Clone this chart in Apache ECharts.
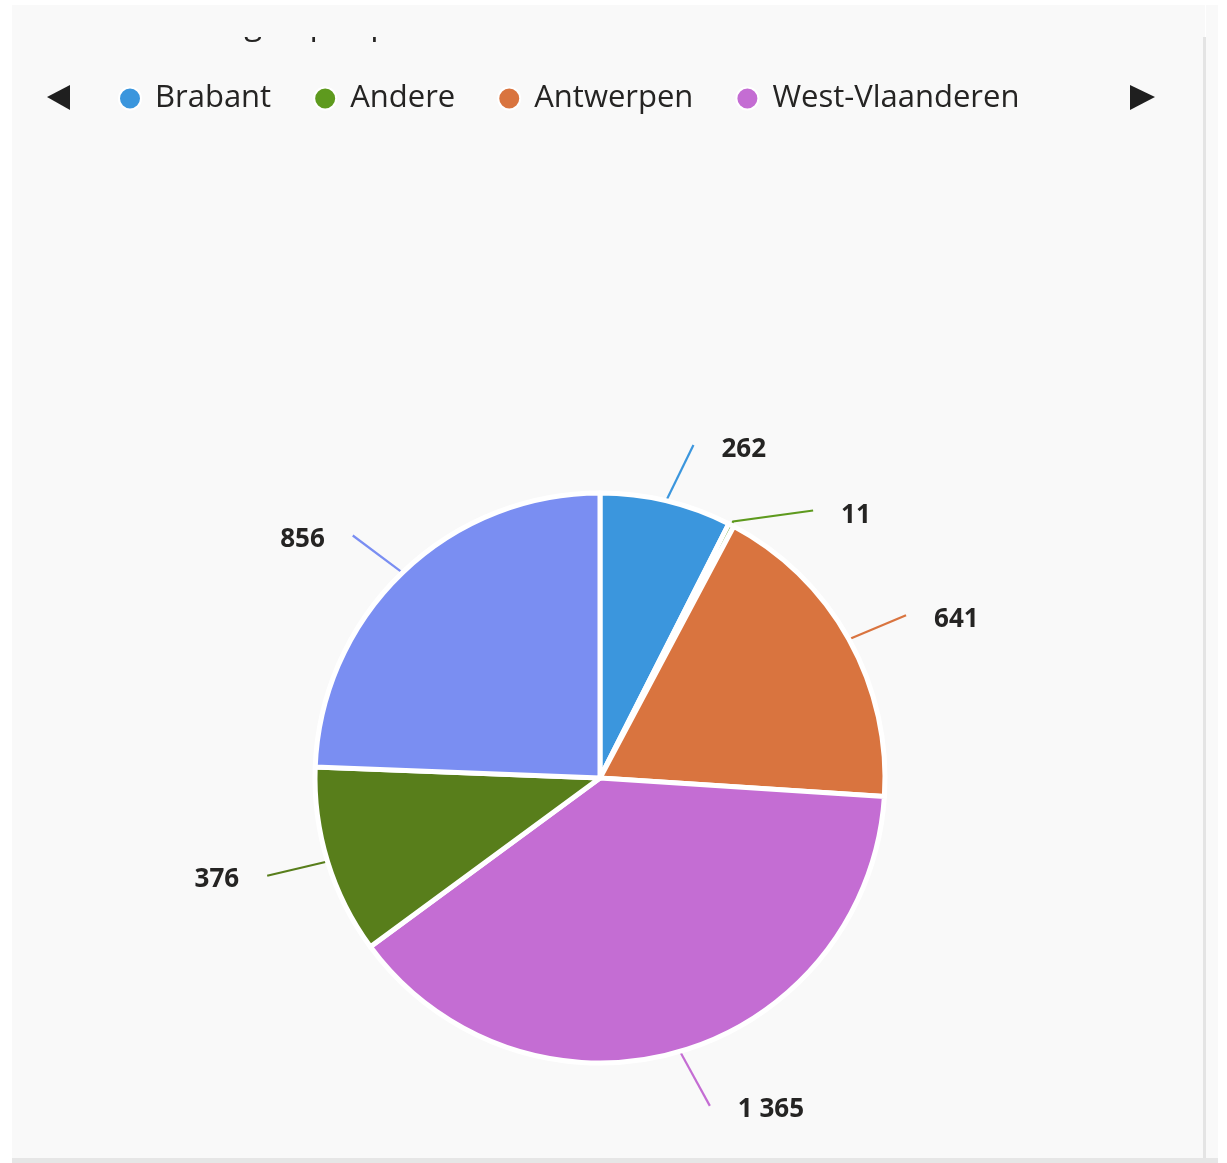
<!DOCTYPE html>
<html>
<head>
<meta charset="utf-8">
<script src="https://cdn.jsdelivr.net/npm/echarts@6/dist/echarts.min.js"></script>
<style>
  html, body { margin: 0; padding: 0; background: #ffffff; width: 1227px; height: 1163px; overflow: hidden; }
  #panel { position: absolute; left: 12px; top: 5px; width: 1193px; height: 1153px; background: #f9f9f9; }
  #rightline { position: absolute; left: 1203px; top: 37px; width: 3px; height: 1123px; background: #e4e4e4; }
  #rightpad { position: absolute; left: 1206px; top: 5px; width: 12px; height: 1153px; background: #f9f9f9; }
  #bottomline { position: absolute; left: 12px; top: 1158px; width: 1206px; height: 5px; background: #e6e6e6; }
  #chart { position: absolute; left: 12px; top: 37px; width: 1191px; height: 1121px; overflow: hidden; }
</style>
</head>
<body>
<div id="panel"></div>
<div id="rightpad"></div>
<div id="rightline"></div>
<div id="bottomline"></div>
<div id="chart"></div>
<script>
// Data
const titleText = 'Aantal leerlingen per provincie';
const categories = ['Brabant', 'Andere', 'Antwerpen', 'West-Vlaanderen', 'Limburg', 'Oost-Vlaanderen'];
const values = [262, 11, 641, 1365, 376, 856];
const colors = ['#3b96dd', '#5e9a1e', '#d9743f', '#c46dd3', '#587e1b', '#7a8ef2'];
const legendVisible = ['Brabant', 'Andere', 'Antwerpen', 'West-Vlaanderen'];

function fmt(v) {
  return String(v).replace(/\B(?=(\d{3})+(?!\d))/g, ' ');
}

const chart = echarts.init(document.getElementById('chart'), null, { renderer: 'canvas' });

const data = categories.map((name, i) => {
  const item = { name: name, value: values[i], itemStyle: { color: colors[i] } };
  if (name === 'Andere') {
    item.labelLine = { length: 4, length2: 80 };
  }
  return item;
});

const MAX_TILT = 13 * Math.PI / 180; // leader lines lean towards horizontal
const GAP = 28;                      // space between line end and label

function layoutLabel(params) {
  const pts = params.labelLinePoints;
  if (!pts || pts.length < 2) return {};
  const p0 = pts[0], p1 = pts[1], p2 = pts[pts.length - 1];
  if (categories[params.dataIndex] === 'Andere') {
    const end = [p2[0], p2[1] - 11];
    return {
      x: end[0] + GAP, y: end[1] + 5, align: 'left', verticalAlign: 'middle',
      labelLinePoints: [p0, p1, end]
    };
  }
  const vx = p1[0] - p0[0], vy = p1[1] - p0[1];
  const len = Math.sqrt(vx * vx + vy * vy);
  let a = Math.atan2(vy, vx);
  const tilt = MAX_TILT * Math.abs(Math.sin(a));
  if (vx >= 0) {
    a = a > 0 ? a - tilt : a + tilt;
  } else {
    a = a > 0 ? a + tilt : a - tilt;
  }
  const end = [p0[0] + Math.cos(a) * len, p0[1] + Math.sin(a) * len];
  const right = Math.cos(a) >= 0;
  return {
    x: end[0] + (right ? GAP : -GAP),
    y: end[1] + 4,
    align: right ? 'left' : 'right',
    verticalAlign: 'middle',
    labelLinePoints: [p0, end, end]
  };
}

chart.setOption({
  backgroundColor: 'transparent',
  animation: false,
  title: {
    text: titleText,
    left: 30,
    top: -29,
    padding: 0,
    textStyle: { fontFamily: 'Open Sans', fontSize: 33, fontWeight: 'normal', color: '#252423' }
  },
  legend: {
    type: 'plain',
    data: legendVisible,
    left: 106,
    top: 46,
    padding: 0,
    icon: 'circle',
    itemWidth: 22,
    itemHeight: 22,
    itemGap: 42,
    textStyle: { fontFamily: 'Open Sans', fontSize: 31, color: '#252423', padding: [0, 0, 0, 9] }
  },
  graphic: [
    { type: 'polygon', shape: { points: [[35, 60], [58, 48], [58, 73]] }, style: { fill: '#1f1f1f' } },
    { type: 'polygon', shape: { points: [[1118, 48], [1118, 73], [1143, 60]] }, style: { fill: '#1f1f1f' } }
  ],
  series: [{
    type: 'pie',
    center: [588, 741],
    radius: 285,
    startAngle: 90,
    clockwise: true,
    avoidLabelOverlap: false,
    itemStyle: { borderColor: '#ffffff', borderWidth: 5 },
    label: {
      show: true,
      formatter: p => fmt(p.value),
      fontFamily: 'Open Sans',
      fontSize: 26,
      fontWeight: 'bold',
      color: '#252423',
      distanceToLabelLine: GAP
    },
    labelLine: { show: true, length: 62, length2: 0, lineStyle: { width: 2.2 } },
    labelLayout: layoutLabel,
    emphasis: { disabled: true },
    data: data
  }]
});
</script>
</body>
</html>
